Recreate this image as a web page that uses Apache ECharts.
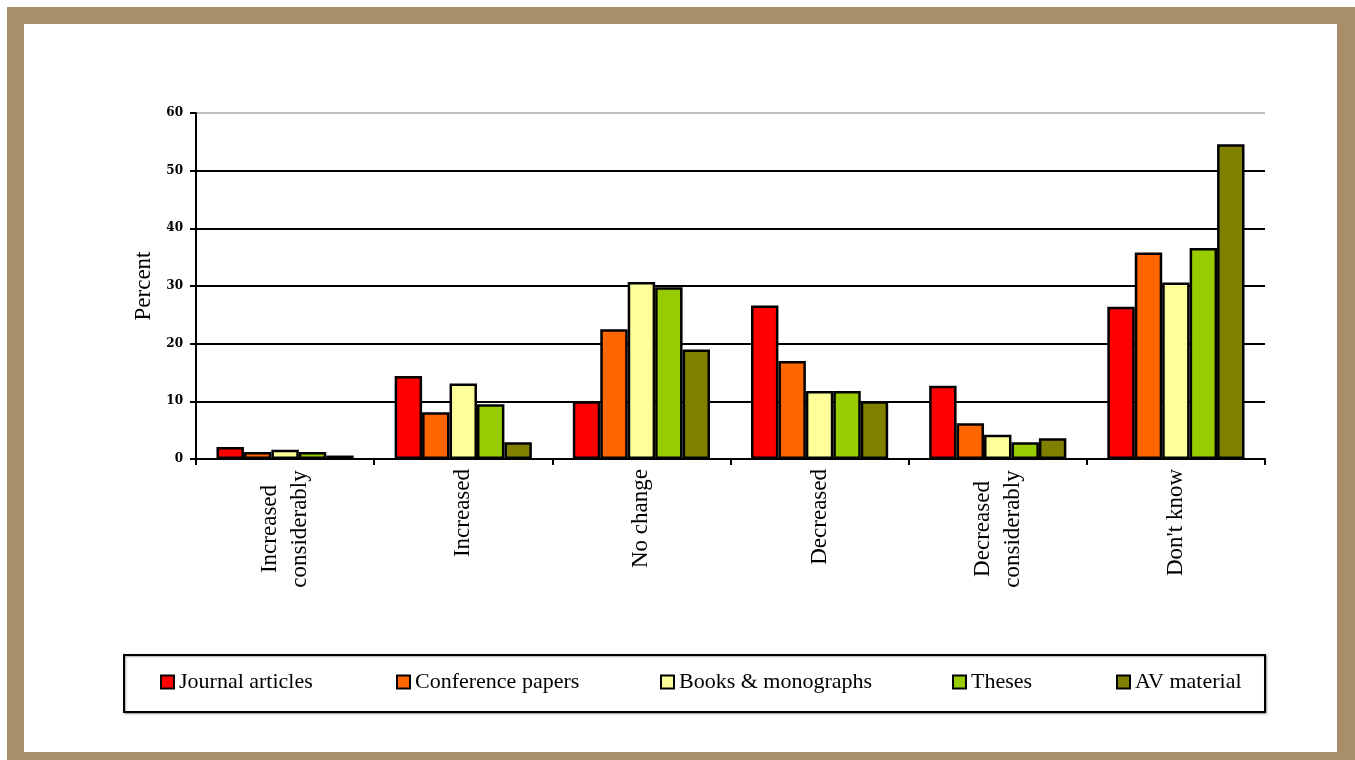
<!DOCTYPE html>
<html>
<head>
<meta charset="utf-8">
<title>Percent</title>
<script src="https://cdn.jsdelivr.net/npm/echarts@6/dist/echarts.min.js"></script>
<style>
  html, body { margin: 0; padding: 0; background: #fff; }
  #main { width: 1355px; height: 760px; }
</style>
</head>
<body>
<div id="main"></div>
<script>
// categories and series values (percent)
var categories = ['Increased considerably', 'Increased', 'No change', 'Decreased', 'Decreased considerably', "Don't know"];
var journal = [2.1, 14.4, 10.0, 26.6, 12.7, 26.4];
var conference = [1.2, 8.1, 22.5, 17.0, 6.2, 35.8];
var books = [1.6, 13.1, 30.7, 11.8, 4.2, 30.6];
var theses = [1.2, 9.5, 29.8, 11.8, 2.9, 36.6];
var avMaterial = [0.6, 2.9, 19.0, 10.0, 3.6, 54.6];
var seriesNames = ['Journal articles', 'Conference papers', 'Books & monographs', 'Theses', 'AV material'];
var seriesColors = ['#FF0000', '#FF6600', '#FFFF99', '#99CC00', '#808000'];
var yTicks = [0, 10, 20, 30, 40, 50, 60];

var serif = 'Liberation Serif';
var chart = echarts.init(document.getElementById('main'));

var allData = [journal, conference, books, theses, avMaterial];
var series = [];
for (var i = 0; i < allData.length; i++) {
    series.push({
        name: seriesNames[i],
        type: 'bar',
        data: allData[i],
        barGap: '0%',
        barCategoryGap: '23%',
        itemStyle: { color: seriesColors[i], borderColor: '#000', borderWidth: 2.5 }
    });
}

// one legend per entry so each one sits where the original has it
var legendLeft = [160, 396, 660, 952, 1116];
var legends = [];
for (var j = 0; j < seriesNames.length; j++) {
    legends.push({
        data: [seriesNames[j]],
        left: legendLeft[j],
        top: 671,
        padding: 0,
        icon: 'rect',
        itemWidth: 13,
        itemHeight: 13,
        selectedMode: false,
        textStyle: { fontFamily: serif, fontSize: 22, color: '#000' }
    });
}

// grey line on top, black for the rest
var splitColors = yTicks.map(function (t) { return t === yTicks[yTicks.length - 1] ? '#c0c0c0' : '#000'; });

var option = {
    animation: false,
    backgroundColor: '#fff',
    graphic: [
        { type: 'rect', z: -20, silent: true, shape: { x: 7, y: 7, width: 1348, height: 753 }, style: { fill: '#A88F6A' } },
        { type: 'rect', z: -19, silent: true, shape: { x: 24, y: 24, width: 1313, height: 728 }, style: { fill: '#fff' } },
        {
            type: 'rect', z: -18, silent: true,
            shape: { x: 124, y: 655, width: 1141, height: 57 },
            style: { fill: '#fff', stroke: '#000', lineWidth: 2, shadowColor: 'rgba(0,0,0,0.35)', shadowBlur: 2, shadowOffsetX: 1, shadowOffsetY: 1 }
        }
    ],
    legend: legends,
    grid: { left: 196, right: 90, top: 113, bottom: 301 },
    xAxis: {
        type: 'category',
        data: categories,
        axisLine: { lineStyle: { color: '#000', width: 2 } },
        axisTick: { show: true, length: 6, lineStyle: { color: '#000', width: 2 } },
        axisLabel: {
            rotate: 90,
            margin: 10,
            interval: 0,
            color: '#000',
            fontFamily: serif,
            fontSize: 23,
            lineHeight: 30,
            formatter: function (v) {
                var idx = v.indexOf(' considerably');
                if (idx > 0) {
                    return '{c|' + v.slice(0, idx) + '}\n{c|considerably}';
                }
                return v;
            },
            rich: {
                c: { width: 120, align: 'center', fontFamily: serif, fontSize: 23, lineHeight: 30, color: '#000' }
            }
        }
    },
    yAxis: {
        type: 'value',
        min: 0,
        max: 60,
        interval: 10,
        name: 'Percent',
        nameLocation: 'middle',
        nameGap: 41,
        nameTextStyle: { fontFamily: serif, fontSize: 23, color: '#000' },
        axisLine: { show: true, lineStyle: { color: '#000', width: 2 } },
        axisTick: { show: true, length: 6, lineStyle: { color: '#000', width: 2 } },
        axisLabel: { margin: 13, color: '#000', fontFamily: 'DejaVu Serif', fontSize: 12, fontWeight: 'bold' },
        splitLine: { show: true, showMaxLine: true, lineStyle: { color: splitColors, width: 2 } }
    },
    series: series
};

chart.setOption(option);
</script>
</body>
</html>
